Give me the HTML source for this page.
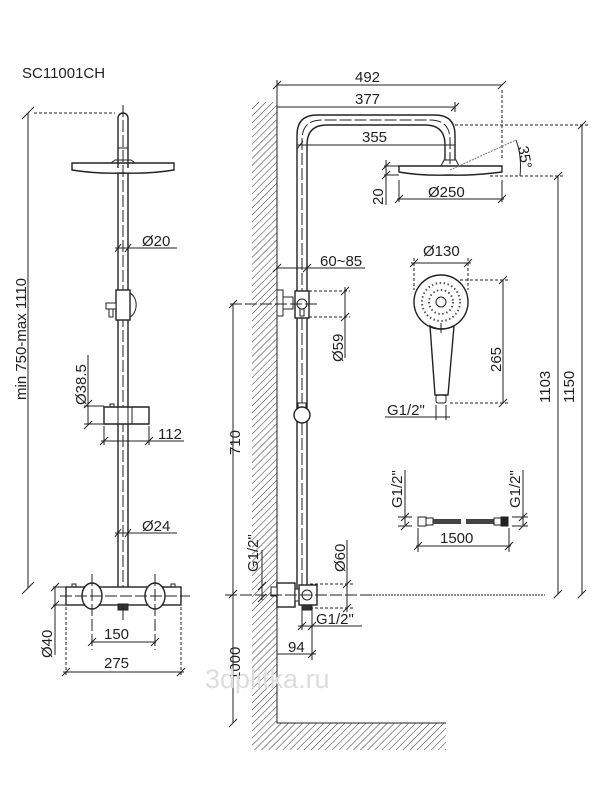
<!DOCTYPE html>
<html><head><meta charset="utf-8"><style>
html,body{margin:0;padding:0;background:#fff;}
svg{display:block;}
text{font-family:"Liberation Sans",sans-serif;fill:#222;font-size:15px;}
</style></head><body>
<svg width="600" height="800" viewBox="0 0 600 800" xmlns="http://www.w3.org/2000/svg">
<defs>
<pattern id="h" width="5" height="5" patternUnits="userSpaceOnUse" patternTransform="rotate(45)">
<line x1="0" y1="0" x2="0" y2="5" stroke="#333" stroke-width="1"/>
</pattern>
</defs>
<g stroke="#222" stroke-width="1" fill="none">
<!-- LEFT VIEW -->
<line x1="28" y1="113" x2="28" y2="588"/>
<line x1="22" y1="119" x2="34" y2="107"/><line x1="22" y1="594" x2="34" y2="582"/>
<line x1="34" y1="113" x2="115" y2="113" stroke-dasharray="3,2"/>
<path d="M118,168 V118 a5,5 0 0 1 10,0 V168" stroke-width="1.4"/>
<line x1="118" y1="148" x2="128" y2="148"/>
<path d="M115,160 L131,160 L135,163 L111,163Z"/>
<path d="M72,163 H174 V170 Q150,174 123,173 Q96,174 72,170Z" stroke-width="1.4"/>
<line x1="118" y1="173" x2="118" y2="587" stroke-width="1.4"/>
<line x1="128" y1="173" x2="128" y2="587" stroke-width="1.4"/>
<line x1="123" y1="105" x2="123" y2="620" stroke-dasharray="12,3"/>
<line x1="115" y1="248" x2="177" y2="248"/>
<line x1="115" y1="252" x2="121" y2="244"/><line x1="125" y1="252" x2="131" y2="244"/>
<rect x="116" y="290" width="14" height="30" fill="#fff" stroke-width="1.4"/>
<path d="M130,293 a10,13 0 0 1 0,24"/>
<rect x="106" y="303" width="10" height="6" fill="#fff"/>
<rect x="109" y="309" width="4" height="8" fill="#fff"/>
<line x1="88" y1="404" x2="88" y2="425"/>
<line x1="84" y1="408" x2="92" y2="400"/><line x1="84" y1="429" x2="92" y2="421"/>
<line x1="84" y1="406" x2="104" y2="406"/><line x1="84" y1="424" x2="104" y2="424"/>
<line x1="88" y1="355" x2="88" y2="404"/>
<path d="M104,407 H149 V424 H104Z" fill="#fff" stroke-width="1.4"/>
<line x1="132" y1="407" x2="132" y2="424"/>
<rect x="110" y="404" width="4" height="3"/>
<line x1="118" y1="407" x2="118" y2="424"/><line x1="128" y1="407" x2="128" y2="424"/>
<line x1="104" y1="426" x2="104" y2="445"/><line x1="149" y1="426" x2="149" y2="445"/>
<line x1="101" y1="441" x2="184" y2="441"/>
<line x1="100" y1="445" x2="108" y2="437"/><line x1="145" y1="445" x2="153" y2="437"/>
<line x1="115" y1="533" x2="177" y2="533"/>
<line x1="115" y1="537" x2="121" y2="529"/><line x1="125" y1="537" x2="131" y2="529"/>
<rect x="66" y="587" width="115" height="18" fill="#fff" stroke-width="1.4"/>
<ellipse cx="92" cy="596" rx="10" ry="13" fill="#fff" stroke-width="1.4"/>
<ellipse cx="155" cy="596" rx="10" ry="13" fill="#fff" stroke-width="1.4"/>
<rect x="72" y="584" width="4" height="3"/><rect x="171" y="584" width="4" height="3"/>
<rect x="118" y="604" width="10" height="6" fill="#333"/>
<line x1="60" y1="596" x2="190" y2="596" stroke-dasharray="12,3"/>
<line x1="92" y1="574" x2="92" y2="650" stroke-dasharray="12,3"/>
<line x1="155" y1="574" x2="155" y2="650" stroke-dasharray="12,3"/>
<line x1="123" y1="605" x2="123" y2="620"/>
<line x1="53" y1="587" x2="66" y2="587"/><line x1="53" y1="605" x2="66" y2="605"/>
<line x1="55" y1="587" x2="55" y2="655"/>
<line x1="51" y1="591" x2="59" y2="583"/><line x1="51" y1="609" x2="59" y2="601"/>
<line x1="91" y1="642" x2="156" y2="642"/>
<line x1="88" y1="646" x2="96" y2="638"/><line x1="151" y1="646" x2="159" y2="638"/>
<line x1="66" y1="607" x2="66" y2="675" stroke-dasharray="3,2"/>
<line x1="181" y1="607" x2="181" y2="675" stroke-dasharray="3,2"/>
<line x1="63" y1="672" x2="184" y2="672"/>
<line x1="62" y1="676" x2="70" y2="668"/><line x1="177" y1="676" x2="185" y2="668"/>

<!-- RIGHT VIEW -->
<rect x="252" y="102" width="25" height="621" fill="url(#h)" stroke="none"/>
<rect x="252" y="723" width="194" height="27" fill="url(#h)" stroke="none"/>
<polyline points="277,102 277,723 446,723"/>
<path d="M297,594 V135 Q297,115 317,115 H435 Q455,115 455,135 V160" stroke-width="1.4"/>
<path d="M307,594 V145 Q307,125 327,125 H425 Q445,125 445,145 V160" stroke-width="1.4"/>
<path d="M302,600 V140 Q302,120 322,120 H430 Q450,120 450,140 V165" stroke-dasharray="12,3"/>
<path d="M444,160 H456 L459,166 H441Z"/>
<path d="M399,166 H502 V172 Q470,176 450,175 Q420,176 399,172Z" stroke-width="1.4"/>
<line x1="277" y1="85" x2="502" y2="85"/>
<line x1="273" y1="89" x2="281" y2="81"/><line x1="498" y1="89" x2="506" y2="81"/>
<line x1="277" y1="80" x2="277" y2="102"/>
<line x1="502" y1="90" x2="502" y2="160" stroke-dasharray="3,2"/>
<line x1="277" y1="107" x2="455" y2="107"/>
<line x1="451" y1="111" x2="459" y2="103"/>
<line x1="455" y1="102" x2="455" y2="112"/>
<line x1="297" y1="145" x2="455" y2="145"/>
<line x1="297" y1="149" x2="303" y2="141"/>
<line x1="455" y1="125" x2="590" y2="125" stroke-dasharray="3,2"/>
<line x1="582" y1="125" x2="582" y2="594"/>
<line x1="578" y1="129" x2="586" y2="121"/><line x1="578" y1="598" x2="586" y2="590"/>
<line x1="490" y1="176" x2="565" y2="176" stroke-dasharray="3,2"/>
<line x1="558" y1="176" x2="558" y2="594"/>
<line x1="554" y1="180" x2="562" y2="172"/><line x1="554" y1="598" x2="562" y2="590"/>
<line x1="450" y1="170" x2="516" y2="140" stroke-dasharray="2,1" stroke="#777"/>
<path d="M516,140 Q522,156 520,176"/>
<line x1="384" y1="166" x2="399" y2="166"/><line x1="384" y1="175" x2="399" y2="175"/>
<line x1="386" y1="160" x2="386" y2="205"/>
<line x1="382" y1="170" x2="390" y2="162"/><line x1="382" y1="179" x2="390" y2="171"/>
<line x1="399" y1="180" x2="399" y2="202"/>
<line x1="502" y1="180" x2="502" y2="202"/>
<line x1="397" y1="199" x2="504" y2="199"/>
<line x1="395" y1="203" x2="403" y2="195"/><line x1="498" y1="203" x2="506" y2="195"/>
<line x1="277" y1="268" x2="365" y2="268"/>
<line x1="273" y1="272" x2="281" y2="264"/><line x1="303" y1="272" x2="311" y2="264"/>
<rect x="277" y="290" width="6" height="26" fill="#fff"/>
<rect x="283" y="297" width="10" height="12" fill="#fff"/>
<rect x="295" y="291" width="14" height="27" fill="#fff" stroke-width="1.4"/>
<circle cx="302" cy="304" r="5" fill="#fff"/>
<rect x="300" y="309" width="4" height="7" fill="#fff"/>
<line x1="230" y1="304" x2="320" y2="304" stroke-dasharray="12,3"/>
<line x1="309" y1="291" x2="350" y2="291" stroke-dasharray="3,2"/>
<line x1="309" y1="317" x2="350" y2="317" stroke-dasharray="3,2"/>
<line x1="345" y1="287" x2="345" y2="358"/>
<line x1="341" y1="295" x2="349" y2="287"/><line x1="341" y1="321" x2="349" y2="313"/>
<line x1="233" y1="304" x2="233" y2="723"/>
<line x1="229" y1="308" x2="237" y2="300"/><line x1="229" y1="598" x2="237" y2="590"/><line x1="229" y1="727" x2="237" y2="719"/>
<rect x="298" y="403" width="8" height="5" fill="#fff"/>
<circle cx="302" cy="415" r="8" fill="#fff" stroke-width="1.4"/>
<rect x="277" y="583" width="18" height="24" fill="#fff" stroke-width="1.4"/>
<rect x="271" y="587" width="6" height="9" fill="#fff"/>
<rect x="295" y="589" width="6" height="12" fill="#fff"/>
<rect x="299" y="585" width="18" height="20" fill="#fff" stroke-width="1.4"/>
<circle cx="307" cy="595" r="5"/>
<rect x="302" y="605" width="10" height="5" fill="#333"/>
<line x1="225" y1="595" x2="370" y2="595" stroke-dasharray="12,3"/>
<line x1="370" y1="595" x2="545" y2="595" stroke-dasharray="2,1"/>
<line x1="310" y1="584" x2="355" y2="584" stroke-dasharray="3,2"/>
<line x1="310" y1="608" x2="355" y2="608" stroke-dasharray="3,2"/>
<line x1="347" y1="540" x2="347" y2="612"/>
<line x1="343" y1="588" x2="351" y2="580"/><line x1="343" y1="612" x2="351" y2="604"/>
<line x1="262" y1="550" x2="262" y2="600"/>
<line x1="258" y1="590" x2="266" y2="582"/><line x1="258" y1="602" x2="266" y2="594"/>
<line x1="302" y1="610" x2="302" y2="630"/><line x1="312" y1="610" x2="312" y2="660"/>
<line x1="298" y1="626" x2="362" y2="626"/>
<line x1="298" y1="630" x2="306" y2="622"/><line x1="308" y1="630" x2="316" y2="622"/>
<line x1="277" y1="654" x2="316" y2="654"/>
<line x1="308" y1="658" x2="316" y2="650"/>
<!-- hand shower -->
<circle cx="441" cy="302" r="27" stroke-width="1.4"/>
<circle cx="441" cy="302" r="5"/>
<circle cx="441" cy="302" r="19" stroke-dasharray="1.5,2.5" stroke-width="2" stroke="#555"/>
<circle cx="441" cy="302" r="12" stroke-dasharray="1.5,2.5" stroke-width="2" stroke="#555"/>
<path d="M430,326 Q441,332 454,326 L448,395 H435 Z" stroke-width="1.4"/>
<rect x="436" y="395" width="10" height="8" rx="2"/>
<line x1="441" y1="323" x2="441" y2="333"/>
<line x1="414" y1="258" x2="414" y2="290" stroke-dasharray="3,2"/>
<line x1="468" y1="258" x2="468" y2="290" stroke-dasharray="3,2"/>
<line x1="411" y1="263" x2="471" y2="263"/>
<line x1="410" y1="267" x2="418" y2="259"/><line x1="464" y1="267" x2="472" y2="259"/>
<line x1="460" y1="280" x2="510" y2="280" stroke-dasharray="3,2"/>
<line x1="450" y1="403" x2="510" y2="403" stroke-dasharray="3,2"/>
<line x1="503" y1="280" x2="503" y2="403"/>
<line x1="499" y1="284" x2="507" y2="276"/><line x1="499" y1="407" x2="507" y2="399"/>
<line x1="436" y1="405" x2="436" y2="420"/><line x1="446" y1="405" x2="446" y2="420"/>
<line x1="385" y1="417" x2="450" y2="417"/>
<!-- hose -->
<rect x="418" y="517" width="8" height="9"/>
<rect x="426" y="518" width="7" height="7"/>
<rect x="433" y="519" width="28" height="5" fill="#444" stroke="none"/>
<rect x="466" y="519" width="28" height="5" fill="#444" stroke="none"/>
<rect x="494" y="518" width="7" height="7"/>
<rect x="501" y="517" width="7" height="9" fill="#222"/>
<line x1="405" y1="470" x2="405" y2="525"/>
<line x1="401" y1="521" x2="409" y2="513"/><line x1="401" y1="530" x2="409" y2="522"/>
<line x1="398" y1="517" x2="412" y2="517"/><line x1="398" y1="526" x2="412" y2="526"/>
<line x1="523" y1="470" x2="523" y2="525"/>
<line x1="519" y1="521" x2="527" y2="513"/><line x1="519" y1="530" x2="527" y2="522"/>
<line x1="512" y1="517" x2="528" y2="517"/><line x1="512" y1="526" x2="528" y2="526"/>
<line x1="418" y1="528" x2="418" y2="552"/><line x1="509" y1="528" x2="509" y2="552"/>
<line x1="416" y1="546" x2="511" y2="546"/>
<line x1="414" y1="550" x2="422" y2="542"/><line x1="505" y1="550" x2="513" y2="542"/>
</g>
<text x="22" y="78">SC11001CH</text>
<text x="142" y="246" >Ø20</text>
<text x="142" y="531">Ø24</text>
<text x="158" y="439">112</text>
<text x="104" y="639">150</text>
<text x="104" y="668">275</text>
<text transform="translate(26,400) rotate(-90)">min 750-max 1110</text>
<text transform="translate(86,405) rotate(-90)">Ø38.5</text>
<text transform="translate(52,658) rotate(-90)">Ø40</text>
<text x="355" y="82">492</text>
<text x="355" y="104">377</text>
<text x="362" y="142">355</text>
<text x="428" y="197">Ø250</text>
<text transform="translate(383,205) rotate(-90)">20</text>
<text transform="translate(518,147) rotate(80)">35°</text>
<text x="320" y="266">60~85</text>
<text transform="translate(343,362) rotate(-90)">Ø59</text>
<text x="423" y="256">Ø130</text>
<text transform="translate(501,372) rotate(-90)">265</text>
<text x="387" y="415">G1/2"</text>
<text transform="translate(550,403) rotate(-90)">1103</text>
<text transform="translate(574,403) rotate(-90)">1150</text>
<text transform="translate(240,455) rotate(-90)">710</text>
<text transform="translate(240,680) rotate(-90)">1000</text>
<text transform="translate(258,572) rotate(-90)">G1/2"</text>
<text transform="translate(345,572) rotate(-90)">Ø60</text>
<text x="316" y="624">G1/2"</text>
<text x="288" y="652">94</text>
<text transform="translate(402,508) rotate(-90)">G1/2"</text>
<text transform="translate(520,508) rotate(-90)">G1/2"</text>
<text x="440" y="543">1500</text>
<text x="205" y="688" style="fill:#ddd;font-size:27px">3dplitka.ru</text>
</svg>
</body></html>
